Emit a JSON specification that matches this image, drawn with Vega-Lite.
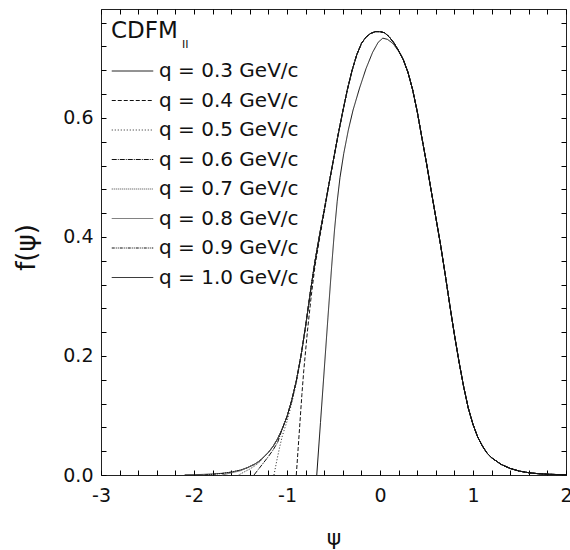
{
"$schema":"https://vega.github.io/schema/vega-lite/v6.json",
"width":465,"height":466,
"autosize":{"type":"none"},
"padding":{"left":101,"top":9,"right":4,"bottom":75},
"config":{"font":"DejaVu Sans","view":{"stroke":"#222","strokeWidth":1}},
"resolve":{"axis":{"x":"independent","y":"independent"}},
"layer":[
{
"data":{"values":[
{"q":"1.0","x":-2.1,"y":0.0004},{"q":"1.0","x":-2.0,"y":0.0006},{"q":"1.0","x":-1.9,"y":0.001},{"q":"1.0","x":-1.8,"y":0.0017},{"q":"1.0","x":-1.7,"y":0.0028},{"q":"1.0","x":-1.6,"y":0.0048},{"q":"1.0","x":-1.5,"y":0.0082},{"q":"1.0","x":-1.43,"y":0.012},{"q":"1.0","x":-1.35,"y":0.018},{"q":"1.0","x":-1.3,"y":0.023},{"q":"1.0","x":-1.25,"y":0.03},{"q":"1.0","x":-1.2,"y":0.038},{"q":"1.0","x":-1.15,"y":0.048},{"q":"1.0","x":-1.1,"y":0.061},{"q":"1.0","x":-1.05,"y":0.078},{"q":"1.0","x":-1.0,"y":0.098},{"q":"1.0","x":-0.95,"y":0.125},{"q":"1.0","x":-0.9,"y":0.158},{"q":"1.0","x":-0.85,"y":0.2},{"q":"1.0","x":-0.8,"y":0.25},{"q":"1.0","x":-0.75,"y":0.306},{"q":"1.0","x":-0.7,"y":0.358},{"q":"1.0","x":-0.65,"y":0.403},{"q":"1.0","x":-0.6,"y":0.445},{"q":"1.0","x":-0.55,"y":0.488},{"q":"1.0","x":-0.5,"y":0.53},{"q":"1.0","x":-0.45,"y":0.572},{"q":"1.0","x":-0.4,"y":0.611},{"q":"1.0","x":-0.35,"y":0.648},{"q":"1.0","x":-0.3,"y":0.68},{"q":"1.0","x":-0.25,"y":0.706},{"q":"1.0","x":-0.2,"y":0.725},{"q":"1.0","x":-0.15,"y":0.736},{"q":"1.0","x":-0.1,"y":0.742},{"q":"1.0","x":-0.05,"y":0.745},{"q":"1.0","x":0.0,"y":0.745},{"q":"1.0","x":0.05,"y":0.743},{"q":"1.0","x":0.1,"y":0.736},{"q":"1.0","x":0.15,"y":0.726},{"q":"1.0","x":0.2,"y":0.713},{"q":"1.0","x":0.25,"y":0.698},{"q":"1.0","x":0.3,"y":0.677},{"q":"1.0","x":0.35,"y":0.648},{"q":"1.0","x":0.4,"y":0.611},{"q":"1.0","x":0.45,"y":0.567},{"q":"1.0","x":0.5,"y":0.524},{"q":"1.0","x":0.55,"y":0.478},{"q":"1.0","x":0.6,"y":0.433},{"q":"1.0","x":0.65,"y":0.388},{"q":"1.0","x":0.7,"y":0.338},{"q":"1.0","x":0.75,"y":0.286},{"q":"1.0","x":0.8,"y":0.236},{"q":"1.0","x":0.85,"y":0.19},{"q":"1.0","x":0.9,"y":0.148},{"q":"1.0","x":0.95,"y":0.112},{"q":"1.0","x":1.0,"y":0.085},{"q":"1.0","x":1.05,"y":0.064},{"q":"1.0","x":1.1,"y":0.049},{"q":"1.0","x":1.15,"y":0.037},{"q":"1.0","x":1.2,"y":0.029},{"q":"1.0","x":1.3,"y":0.018},{"q":"1.0","x":1.4,"y":0.011},{"q":"1.0","x":1.5,"y":0.0065},{"q":"1.0","x":1.6,"y":0.0038},{"q":"1.0","x":1.7,"y":0.0022},{"q":"1.0","x":1.8,"y":0.0013},{"q":"1.0","x":1.9,"y":0.0008},{"q":"1.0","x":2.0,"y":0.0005},

{"q":"0.9","x":-1.88,"y":0},{"q":"0.9","x":-1.8,"y":0.0012},{"q":"0.9","x":-1.7,"y":0.0025},{"q":"0.9","x":-1.6,"y":0.0048},{"q":"0.9","x":-1.5,"y":0.0082},{"q":"0.9","x":-1.43,"y":0.012},{"q":"0.9","x":-1.35,"y":0.018},{"q":"0.9","x":-1.3,"y":0.023},{"q":"0.9","x":-1.25,"y":0.03},{"q":"0.9","x":-1.2,"y":0.038},{"q":"0.9","x":-1.15,"y":0.048},{"q":"0.9","x":-1.1,"y":0.061},{"q":"0.9","x":-1.05,"y":0.078},{"q":"0.9","x":-1.0,"y":0.098},{"q":"0.9","x":-0.95,"y":0.125},{"q":"0.9","x":-0.9,"y":0.158},{"q":"0.9","x":-0.85,"y":0.2},{"q":"0.9","x":-0.8,"y":0.25},{"q":"0.9","x":-0.75,"y":0.306},{"q":"0.9","x":-0.7,"y":0.358},{"q":"0.9","x":-0.65,"y":0.403},{"q":"0.9","x":-0.6,"y":0.445},{"q":"0.9","x":-0.55,"y":0.488},{"q":"0.9","x":-0.5,"y":0.53},{"q":"0.9","x":-0.45,"y":0.572},{"q":"0.9","x":-0.4,"y":0.611},{"q":"0.9","x":-0.35,"y":0.648},{"q":"0.9","x":-0.3,"y":0.68},{"q":"0.9","x":-0.25,"y":0.706},{"q":"0.9","x":-0.2,"y":0.725},{"q":"0.9","x":-0.15,"y":0.736},{"q":"0.9","x":-0.1,"y":0.742},{"q":"0.9","x":-0.05,"y":0.745},{"q":"0.9","x":0.0,"y":0.745},{"q":"0.9","x":0.05,"y":0.743},{"q":"0.9","x":0.1,"y":0.736},{"q":"0.9","x":0.15,"y":0.726},{"q":"0.9","x":0.2,"y":0.713},{"q":"0.9","x":0.25,"y":0.698},{"q":"0.9","x":0.3,"y":0.677},{"q":"0.9","x":0.35,"y":0.648},{"q":"0.9","x":0.4,"y":0.611},{"q":"0.9","x":0.45,"y":0.567},{"q":"0.9","x":0.5,"y":0.524},{"q":"0.9","x":0.55,"y":0.478},{"q":"0.9","x":0.6,"y":0.433},{"q":"0.9","x":0.65,"y":0.388},{"q":"0.9","x":0.7,"y":0.338},{"q":"0.9","x":0.75,"y":0.286},{"q":"0.9","x":0.8,"y":0.236},{"q":"0.9","x":0.85,"y":0.19},{"q":"0.9","x":0.9,"y":0.148},{"q":"0.9","x":0.95,"y":0.112},{"q":"0.9","x":1.0,"y":0.085},{"q":"0.9","x":1.05,"y":0.064},{"q":"0.9","x":1.1,"y":0.049},{"q":"0.9","x":1.15,"y":0.037},{"q":"0.9","x":1.2,"y":0.029},{"q":"0.9","x":1.3,"y":0.018},{"q":"0.9","x":1.4,"y":0.011},{"q":"0.9","x":1.5,"y":0.0065},{"q":"0.9","x":1.6,"y":0.0038},{"q":"0.9","x":1.7,"y":0.0022},{"q":"0.9","x":1.8,"y":0.0013},{"q":"0.9","x":1.9,"y":0.0008},{"q":"0.9","x":2.0,"y":0.0005},

{"q":"0.8","x":-1.7,"y":0},{"q":"0.8","x":-1.6,"y":0.0035},{"q":"0.8","x":-1.5,"y":0.0072},{"q":"0.8","x":-1.43,"y":0.012},{"q":"0.8","x":-1.35,"y":0.018},{"q":"0.8","x":-1.3,"y":0.023},{"q":"0.8","x":-1.25,"y":0.03},{"q":"0.8","x":-1.2,"y":0.038},{"q":"0.8","x":-1.15,"y":0.048},{"q":"0.8","x":-1.1,"y":0.061},{"q":"0.8","x":-1.05,"y":0.078},{"q":"0.8","x":-1.0,"y":0.098},{"q":"0.8","x":-0.95,"y":0.125},{"q":"0.8","x":-0.9,"y":0.158},{"q":"0.8","x":-0.85,"y":0.2},{"q":"0.8","x":-0.8,"y":0.25},{"q":"0.8","x":-0.75,"y":0.306},{"q":"0.8","x":-0.7,"y":0.358},{"q":"0.8","x":-0.65,"y":0.403},{"q":"0.8","x":-0.6,"y":0.445},{"q":"0.8","x":-0.55,"y":0.488},{"q":"0.8","x":-0.5,"y":0.53},{"q":"0.8","x":-0.45,"y":0.572},{"q":"0.8","x":-0.4,"y":0.611},{"q":"0.8","x":-0.35,"y":0.648},{"q":"0.8","x":-0.3,"y":0.68},{"q":"0.8","x":-0.25,"y":0.706},{"q":"0.8","x":-0.2,"y":0.725},{"q":"0.8","x":-0.15,"y":0.736},{"q":"0.8","x":-0.1,"y":0.742},{"q":"0.8","x":-0.05,"y":0.745},{"q":"0.8","x":0.0,"y":0.745},{"q":"0.8","x":0.05,"y":0.743},{"q":"0.8","x":0.1,"y":0.736},{"q":"0.8","x":0.15,"y":0.726},{"q":"0.8","x":0.2,"y":0.713},{"q":"0.8","x":0.25,"y":0.698},{"q":"0.8","x":0.3,"y":0.677},{"q":"0.8","x":0.35,"y":0.648},{"q":"0.8","x":0.4,"y":0.611},{"q":"0.8","x":0.45,"y":0.567},{"q":"0.8","x":0.5,"y":0.524},{"q":"0.8","x":0.55,"y":0.478},{"q":"0.8","x":0.6,"y":0.433},{"q":"0.8","x":0.65,"y":0.388},{"q":"0.8","x":0.7,"y":0.338},{"q":"0.8","x":0.75,"y":0.286},{"q":"0.8","x":0.8,"y":0.236},{"q":"0.8","x":0.85,"y":0.19},{"q":"0.8","x":0.9,"y":0.148},{"q":"0.8","x":0.95,"y":0.112},{"q":"0.8","x":1.0,"y":0.085},{"q":"0.8","x":1.05,"y":0.064},{"q":"0.8","x":1.1,"y":0.049},{"q":"0.8","x":1.15,"y":0.037},{"q":"0.8","x":1.2,"y":0.029},{"q":"0.8","x":1.3,"y":0.018},{"q":"0.8","x":1.4,"y":0.011},{"q":"0.8","x":1.5,"y":0.0065},{"q":"0.8","x":1.6,"y":0.0038},{"q":"0.8","x":1.7,"y":0.0022},{"q":"0.8","x":1.8,"y":0.0013},{"q":"0.8","x":1.9,"y":0.0008},{"q":"0.8","x":2.0,"y":0.0005},

{"q":"0.7","x":-1.52,"y":0},{"q":"0.7","x":-1.45,"y":0.006},{"q":"0.7","x":-1.4,"y":0.01},{"q":"0.7","x":-1.35,"y":0.015},{"q":"0.7","x":-1.3,"y":0.021},{"q":"0.7","x":-1.25,"y":0.03},{"q":"0.7","x":-1.2,"y":0.038},{"q":"0.7","x":-1.15,"y":0.048},{"q":"0.7","x":-1.1,"y":0.061},{"q":"0.7","x":-1.05,"y":0.078},{"q":"0.7","x":-1.0,"y":0.098},{"q":"0.7","x":-0.95,"y":0.125},{"q":"0.7","x":-0.9,"y":0.158},{"q":"0.7","x":-0.85,"y":0.2},{"q":"0.7","x":-0.8,"y":0.25},{"q":"0.7","x":-0.75,"y":0.306},{"q":"0.7","x":-0.7,"y":0.358},{"q":"0.7","x":-0.65,"y":0.403},{"q":"0.7","x":-0.6,"y":0.445},{"q":"0.7","x":-0.55,"y":0.488},{"q":"0.7","x":-0.5,"y":0.53},{"q":"0.7","x":-0.45,"y":0.572},{"q":"0.7","x":-0.4,"y":0.611},{"q":"0.7","x":-0.35,"y":0.648},{"q":"0.7","x":-0.3,"y":0.68},{"q":"0.7","x":-0.25,"y":0.706},{"q":"0.7","x":-0.2,"y":0.725},{"q":"0.7","x":-0.15,"y":0.736},{"q":"0.7","x":-0.1,"y":0.742},{"q":"0.7","x":-0.05,"y":0.745},{"q":"0.7","x":0.0,"y":0.745},{"q":"0.7","x":0.05,"y":0.743},{"q":"0.7","x":0.1,"y":0.736},{"q":"0.7","x":0.15,"y":0.726},{"q":"0.7","x":0.2,"y":0.713},{"q":"0.7","x":0.25,"y":0.698},{"q":"0.7","x":0.3,"y":0.677},{"q":"0.7","x":0.35,"y":0.648},{"q":"0.7","x":0.4,"y":0.611},{"q":"0.7","x":0.45,"y":0.567},{"q":"0.7","x":0.5,"y":0.524},{"q":"0.7","x":0.55,"y":0.478},{"q":"0.7","x":0.6,"y":0.433},{"q":"0.7","x":0.65,"y":0.388},{"q":"0.7","x":0.7,"y":0.338},{"q":"0.7","x":0.75,"y":0.286},{"q":"0.7","x":0.8,"y":0.236},{"q":"0.7","x":0.85,"y":0.19},{"q":"0.7","x":0.9,"y":0.148},{"q":"0.7","x":0.95,"y":0.112},{"q":"0.7","x":1.0,"y":0.085},{"q":"0.7","x":1.05,"y":0.064},{"q":"0.7","x":1.1,"y":0.049},{"q":"0.7","x":1.15,"y":0.037},{"q":"0.7","x":1.2,"y":0.029},{"q":"0.7","x":1.3,"y":0.018},{"q":"0.7","x":1.4,"y":0.011},{"q":"0.7","x":1.5,"y":0.0065},{"q":"0.7","x":1.6,"y":0.0038},{"q":"0.7","x":1.7,"y":0.0022},{"q":"0.7","x":1.8,"y":0.0013},{"q":"0.7","x":1.9,"y":0.0008},{"q":"0.7","x":2.0,"y":0.0005},

{"q":"0.6","x":-1.355,"y":0},{"q":"0.6","x":-1.3,"y":0.011},{"q":"0.6","x":-1.25,"y":0.021},{"q":"0.6","x":-1.2,"y":0.031},{"q":"0.6","x":-1.15,"y":0.042},{"q":"0.6","x":-1.1,"y":0.055},{"q":"0.6","x":-1.05,"y":0.078},{"q":"0.6","x":-1.0,"y":0.098},{"q":"0.6","x":-0.95,"y":0.125},{"q":"0.6","x":-0.9,"y":0.158},{"q":"0.6","x":-0.85,"y":0.2},{"q":"0.6","x":-0.8,"y":0.25},{"q":"0.6","x":-0.75,"y":0.306},{"q":"0.6","x":-0.7,"y":0.358},{"q":"0.6","x":-0.65,"y":0.403},{"q":"0.6","x":-0.6,"y":0.445},{"q":"0.6","x":-0.55,"y":0.488},{"q":"0.6","x":-0.5,"y":0.53},{"q":"0.6","x":-0.45,"y":0.572},{"q":"0.6","x":-0.4,"y":0.611},{"q":"0.6","x":-0.35,"y":0.648},{"q":"0.6","x":-0.3,"y":0.68},{"q":"0.6","x":-0.25,"y":0.706},{"q":"0.6","x":-0.2,"y":0.725},{"q":"0.6","x":-0.15,"y":0.736},{"q":"0.6","x":-0.1,"y":0.742},{"q":"0.6","x":-0.05,"y":0.745},{"q":"0.6","x":0.0,"y":0.745},{"q":"0.6","x":0.05,"y":0.743},{"q":"0.6","x":0.1,"y":0.736},{"q":"0.6","x":0.15,"y":0.726},{"q":"0.6","x":0.2,"y":0.713},{"q":"0.6","x":0.25,"y":0.698},{"q":"0.6","x":0.3,"y":0.677},{"q":"0.6","x":0.35,"y":0.648},{"q":"0.6","x":0.4,"y":0.611},{"q":"0.6","x":0.45,"y":0.567},{"q":"0.6","x":0.5,"y":0.524},{"q":"0.6","x":0.55,"y":0.478},{"q":"0.6","x":0.6,"y":0.433},{"q":"0.6","x":0.65,"y":0.388},{"q":"0.6","x":0.7,"y":0.338},{"q":"0.6","x":0.75,"y":0.286},{"q":"0.6","x":0.8,"y":0.236},{"q":"0.6","x":0.85,"y":0.19},{"q":"0.6","x":0.9,"y":0.148},{"q":"0.6","x":0.95,"y":0.112},{"q":"0.6","x":1.0,"y":0.085},{"q":"0.6","x":1.05,"y":0.064},{"q":"0.6","x":1.1,"y":0.049},{"q":"0.6","x":1.15,"y":0.037},{"q":"0.6","x":1.2,"y":0.029},{"q":"0.6","x":1.3,"y":0.018},{"q":"0.6","x":1.4,"y":0.011},{"q":"0.6","x":1.5,"y":0.0065},{"q":"0.6","x":1.6,"y":0.0038},{"q":"0.6","x":1.7,"y":0.0022},{"q":"0.6","x":1.8,"y":0.0013},{"q":"0.6","x":1.9,"y":0.0008},{"q":"0.6","x":2.0,"y":0.0005},

{"q":"0.5","x":-1.14,"y":0},{"q":"0.5","x":-1.11,"y":0.024},{"q":"0.5","x":-1.08,"y":0.046},{"q":"0.5","x":-1.05,"y":0.066},{"q":"0.5","x":-1.0,"y":0.09},{"q":"0.5","x":-0.95,"y":0.12},{"q":"0.5","x":-0.9,"y":0.154},{"q":"0.5","x":-0.85,"y":0.2},{"q":"0.5","x":-0.8,"y":0.25},{"q":"0.5","x":-0.75,"y":0.306},{"q":"0.5","x":-0.7,"y":0.358},{"q":"0.5","x":-0.65,"y":0.403},{"q":"0.5","x":-0.6,"y":0.445},{"q":"0.5","x":-0.55,"y":0.488},{"q":"0.5","x":-0.5,"y":0.53},{"q":"0.5","x":-0.45,"y":0.572},{"q":"0.5","x":-0.4,"y":0.611},{"q":"0.5","x":-0.35,"y":0.648},{"q":"0.5","x":-0.3,"y":0.68},{"q":"0.5","x":-0.25,"y":0.706},{"q":"0.5","x":-0.2,"y":0.725},{"q":"0.5","x":-0.15,"y":0.736},{"q":"0.5","x":-0.1,"y":0.742},{"q":"0.5","x":-0.05,"y":0.745},{"q":"0.5","x":0.0,"y":0.745},{"q":"0.5","x":0.05,"y":0.743},{"q":"0.5","x":0.1,"y":0.736},{"q":"0.5","x":0.15,"y":0.726},{"q":"0.5","x":0.2,"y":0.713},{"q":"0.5","x":0.25,"y":0.698},{"q":"0.5","x":0.3,"y":0.677},{"q":"0.5","x":0.35,"y":0.648},{"q":"0.5","x":0.4,"y":0.611},{"q":"0.5","x":0.45,"y":0.567},{"q":"0.5","x":0.5,"y":0.524},{"q":"0.5","x":0.55,"y":0.478},{"q":"0.5","x":0.6,"y":0.433},{"q":"0.5","x":0.65,"y":0.388},{"q":"0.5","x":0.7,"y":0.338},{"q":"0.5","x":0.75,"y":0.286},{"q":"0.5","x":0.8,"y":0.236},{"q":"0.5","x":0.85,"y":0.19},{"q":"0.5","x":0.9,"y":0.148},{"q":"0.5","x":0.95,"y":0.112},{"q":"0.5","x":1.0,"y":0.085},{"q":"0.5","x":1.05,"y":0.064},{"q":"0.5","x":1.1,"y":0.049},{"q":"0.5","x":1.15,"y":0.037},{"q":"0.5","x":1.2,"y":0.029},{"q":"0.5","x":1.3,"y":0.018},{"q":"0.5","x":1.4,"y":0.011},{"q":"0.5","x":1.5,"y":0.0065},{"q":"0.5","x":1.6,"y":0.0038},{"q":"0.5","x":1.7,"y":0.0022},{"q":"0.5","x":1.8,"y":0.0013},{"q":"0.5","x":1.9,"y":0.0008},{"q":"0.5","x":2.0,"y":0.0005},

{"q":"0.4","x":-0.9,"y":0},{"q":"0.4","x":-0.88,"y":0.045},{"q":"0.4","x":-0.86,"y":0.09},{"q":"0.4","x":-0.84,"y":0.135},{"q":"0.4","x":-0.82,"y":0.175},{"q":"0.4","x":-0.78,"y":0.242},{"q":"0.4","x":-0.74,"y":0.3},{"q":"0.4","x":-0.7,"y":0.35},{"q":"0.4","x":-0.65,"y":0.397},{"q":"0.4","x":-0.6,"y":0.441},{"q":"0.4","x":-0.55,"y":0.488},{"q":"0.4","x":-0.5,"y":0.53},{"q":"0.4","x":-0.45,"y":0.572},{"q":"0.4","x":-0.4,"y":0.611},{"q":"0.4","x":-0.35,"y":0.648},{"q":"0.4","x":-0.3,"y":0.68},{"q":"0.4","x":-0.25,"y":0.706},{"q":"0.4","x":-0.2,"y":0.725},{"q":"0.4","x":-0.15,"y":0.736},{"q":"0.4","x":-0.1,"y":0.742},{"q":"0.4","x":-0.05,"y":0.745},{"q":"0.4","x":0.0,"y":0.745},{"q":"0.4","x":0.05,"y":0.743},{"q":"0.4","x":0.1,"y":0.736},{"q":"0.4","x":0.15,"y":0.726},{"q":"0.4","x":0.2,"y":0.713},{"q":"0.4","x":0.25,"y":0.698},{"q":"0.4","x":0.3,"y":0.677},{"q":"0.4","x":0.35,"y":0.648},{"q":"0.4","x":0.4,"y":0.611},{"q":"0.4","x":0.45,"y":0.567},{"q":"0.4","x":0.5,"y":0.524},{"q":"0.4","x":0.55,"y":0.478},{"q":"0.4","x":0.6,"y":0.433},{"q":"0.4","x":0.65,"y":0.388},{"q":"0.4","x":0.7,"y":0.338},{"q":"0.4","x":0.75,"y":0.286},{"q":"0.4","x":0.8,"y":0.236},{"q":"0.4","x":0.85,"y":0.19},{"q":"0.4","x":0.9,"y":0.148},{"q":"0.4","x":0.95,"y":0.112},{"q":"0.4","x":1.0,"y":0.085},{"q":"0.4","x":1.05,"y":0.064},{"q":"0.4","x":1.1,"y":0.049},{"q":"0.4","x":1.15,"y":0.037},{"q":"0.4","x":1.2,"y":0.029},{"q":"0.4","x":1.3,"y":0.018},{"q":"0.4","x":1.4,"y":0.011},{"q":"0.4","x":1.5,"y":0.0065},{"q":"0.4","x":1.6,"y":0.0038},{"q":"0.4","x":1.7,"y":0.0022},{"q":"0.4","x":1.8,"y":0.0013},{"q":"0.4","x":1.9,"y":0.0008},{"q":"0.4","x":2.0,"y":0.0005},

{"q":"0.3","x":-0.68,"y":0},{"q":"0.3","x":-0.64,"y":0.088},{"q":"0.3","x":-0.6,"y":0.176},{"q":"0.3","x":-0.56,"y":0.264},{"q":"0.3","x":-0.52,"y":0.35},{"q":"0.3","x":-0.49,"y":0.41},{"q":"0.3","x":-0.46,"y":0.46},{"q":"0.3","x":-0.43,"y":0.5},{"q":"0.3","x":-0.39,"y":0.54},{"q":"0.3","x":-0.34,"y":0.58},{"q":"0.3","x":-0.29,"y":0.613},{"q":"0.3","x":-0.22,"y":0.65},{"q":"0.3","x":-0.15,"y":0.683},{"q":"0.3","x":-0.08,"y":0.71},{"q":"0.3","x":-0.02,"y":0.727},{"q":"0.3","x":0.03,"y":0.734},{"q":"0.3","x":0.08,"y":0.732},{"q":"0.3","x":0.14,"y":0.725},{"q":"0.3","x":0.2,"y":0.712},{"q":"0.3","x":0.25,"y":0.698},{"q":"0.3","x":0.3,"y":0.677},{"q":"0.3","x":0.35,"y":0.648},{"q":"0.3","x":0.4,"y":0.611},{"q":"0.3","x":0.45,"y":0.567},{"q":"0.3","x":0.5,"y":0.524},{"q":"0.3","x":0.55,"y":0.478},{"q":"0.3","x":0.6,"y":0.433},{"q":"0.3","x":0.65,"y":0.388},{"q":"0.3","x":0.7,"y":0.338},{"q":"0.3","x":0.75,"y":0.286},{"q":"0.3","x":0.8,"y":0.236},{"q":"0.3","x":0.85,"y":0.19},{"q":"0.3","x":0.9,"y":0.148},{"q":"0.3","x":0.95,"y":0.112},{"q":"0.3","x":1.0,"y":0.085},{"q":"0.3","x":1.05,"y":0.064},{"q":"0.3","x":1.1,"y":0.049},{"q":"0.3","x":1.15,"y":0.037},{"q":"0.3","x":1.2,"y":0.029},{"q":"0.3","x":1.3,"y":0.018},{"q":"0.3","x":1.4,"y":0.011},{"q":"0.3","x":1.5,"y":0.0065},{"q":"0.3","x":1.6,"y":0.0038},{"q":"0.3","x":1.7,"y":0.0022},{"q":"0.3","x":1.8,"y":0.0013},{"q":"0.3","x":1.9,"y":0.0008},{"q":"0.3","x":2.0,"y":0.0005}
]},
"mark":{"type":"line","strokeWidth":1},
"encoding":{
"x":{"field":"x","type":"quantitative","scale":{"domain":[-3,2],"nice":false,"zero":false},
"axis":{"orient":"bottom","values":[-3,-2.8,-2.6,-2.4,-2.2,-2,-1.8,-1.6,-1.4,-1.2,-1,-0.8,-0.6,-0.4,-0.2,0,0.2,0.4,0.6,0.8,1,1.2,1.4,1.6,1.8,2],"offset":-5,"tickSize":5,"ticks":true,"tickColor":"#000","tickWidth":1,"domain":false,"grid":false,
"labelExpr":"abs(datum.value - round(datum.value)) < 0.001 ? toString(round(datum.value)) : ''","labelFontSize":19,"labelColor":"#111","labelPadding":11,"labelFlush":false,"labelOverlap":false,"labelBound":false,
"title":"ψ","titleFontSize":22,"titleFontWeight":"normal","titleColor":"#111","titleX":232.5,"titleY":67,"titleBaseline":"middle","titleAlign":"center"}},
"y":{"field":"y","type":"quantitative","scale":{"domain":[0,0.783],"nice":false,"zero":false},
"axis":{"orient":"left","values":[0,0.04,0.08,0.12,0.16,0.2,0.24,0.28,0.32,0.36,0.4,0.44,0.48,0.52,0.56,0.6,0.64,0.68,0.72,0.76],"offset":-5,"tickSize":5,"ticks":true,"tickColor":"#000","tickWidth":1,"domain":false,"grid":false,
"labelExpr":"abs(datum.value*5 - round(datum.value*5)) < 0.001 ? format(datum.value, '.1f') : ''",
"labelFontSize":19,"labelColor":"#111","labelPadding":8,"labelFlush":false,"labelOverlap":false,"labelBound":false,
"title":"f(ψ)","titleFontSize":26,"titleFontWeight":"normal","titleColor":"#111","titleX":-80,"titleY":238,"titleBaseline":"middle","titleAlign":"center","titleAngle":-90}},
"strokeDash":{"field":"q","type":"nominal","scale":{"domain":["0.3","0.4","0.5","0.6","0.7","0.8","0.9","1.0"],"range":[[1,0],[4,2],[1,2],[5,1,1,1],[1,1],[1,0],[3,1,1,1,1,1],[1,0]]},
"legend":{"title":"CDFM","orient":"none","legendX":10,"legendY":11,"padding":0,"symbolType":"stroke","symbolSize":1722,"symbolStrokeWidth":1,"labelFontSize":20,"labelColor":"#111","labelOffset":5,"labelLimit":300,"labelExpr":"'q = ' + datum.label + ' GeV/c'","titleFontSize":23,"titleFontWeight":"normal","titleColor":"#111","titlePadding":18,"rowPadding":9.5,"clipHeight":20}},
"color":{"field":"q","type":"nominal","scale":{"domain":["0.3","0.4","0.5","0.6","0.7","0.8","0.9","1.0"],"range":["#111","#111","#222","#111","#444","#666","#111","#111"]},
"legend":{"title":"CDFM","orient":"none","legendX":10,"legendY":11,"padding":0,"symbolType":"stroke","symbolSize":1722,"symbolStrokeWidth":1,"labelFontSize":20,"labelColor":"#111","labelOffset":5,"labelLimit":300,"labelExpr":"'q = ' + datum.label + ' GeV/c'","titleFontSize":23,"titleFontWeight":"normal","titleColor":"#111","titlePadding":18,"rowPadding":9.5,"clipHeight":20}}
}
},
{
"data":{"values":[{"t":"II"}]},
"mark":{"type":"text","fontSize":11,"align":"left","baseline":"alphabetic","color":"#111"},
"encoding":{
"text":{"field":"t"},
"x":{"datum":-2.13,"type":"quantitative","axis":{"orient":"top","values":[-3,-2.8,-2.6,-2.4,-2.2,-2,-1.8,-1.6,-1.4,-1.2,-1,-0.8,-0.6,-0.4,-0.2,0,0.2,0.4,0.6,0.8,1,1.2,1.4,1.6,1.8,2],"tickSize":-5,"ticks":true,"tickColor":"#000","tickWidth":1,"labels":false,"title":null,"domain":false,"grid":false}},
"y":{"datum":0.7176,"type":"quantitative","axis":{"orient":"right","values":[0,0.04,0.08,0.12,0.16,0.2,0.24,0.28,0.32,0.36,0.4,0.44,0.48,0.52,0.56,0.6,0.64,0.68,0.72,0.76],"tickSize":-5,"ticks":true,"tickColor":"#000","tickWidth":1,"labels":false,"title":null,"domain":false,"grid":false}}
}
}
]
}
